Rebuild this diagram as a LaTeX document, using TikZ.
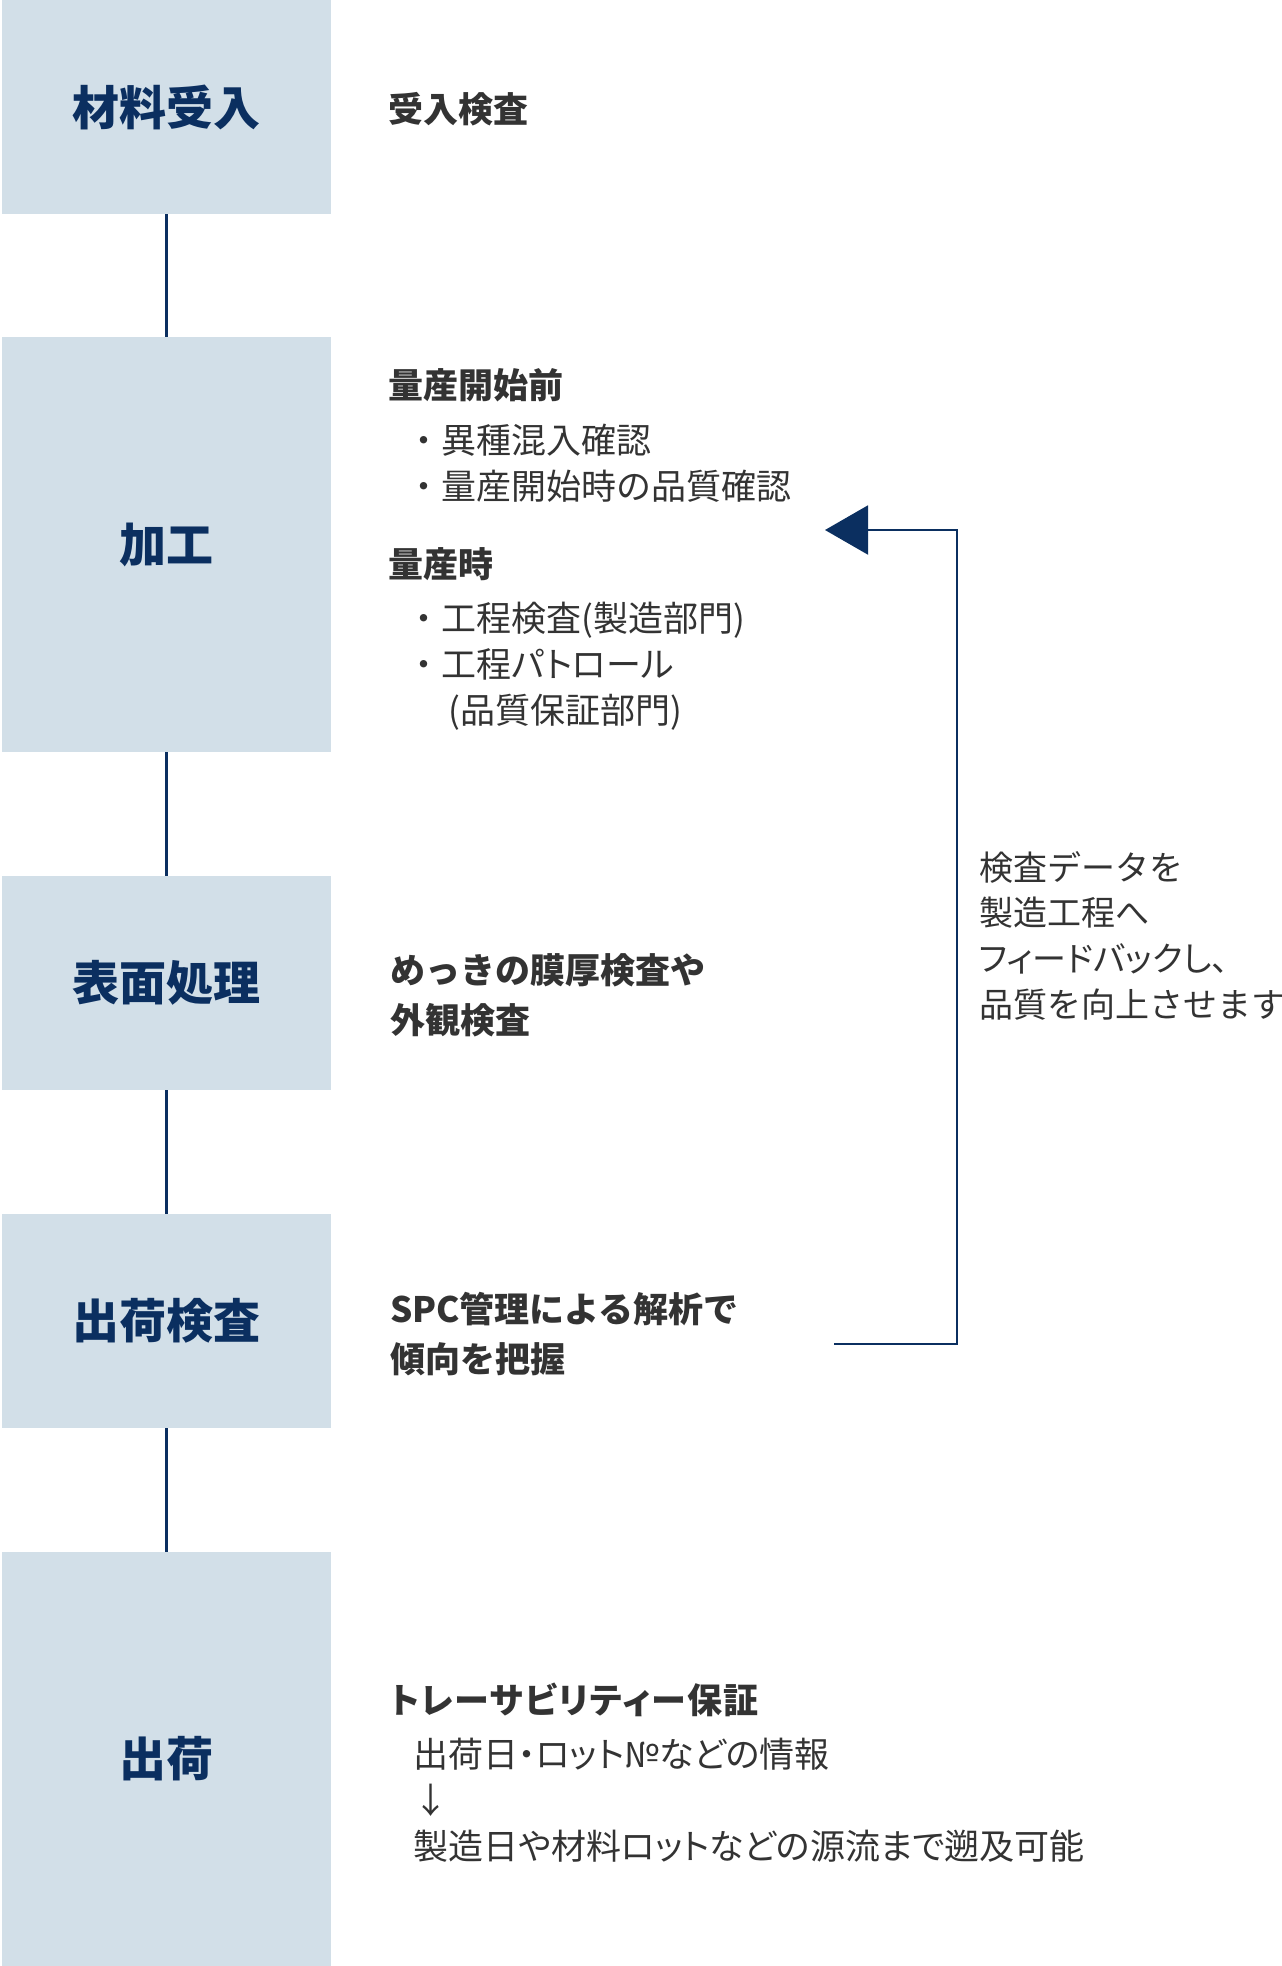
\documentclass[tikz,border=0pt]{standalone}
\usepackage{fontspec}
\setmainfont{Noto Sans CJK JP}
\newfontfamily\paltfont{Noto Sans CJK JP}[RawFeature=+palt]
\newfontfamily\paltwide{Noto Sans CJK JP}[RawFeature=+palt, LetterSpace=4.5]
\usetikzlibrary{arrows.meta}
\definecolor{navy}{HTML}{0B2F60}
\definecolor{boxfill}{HTML}{D2DFE8}
\definecolor{txt}{HTML}{333333}
\tikzset{
  stage/.style={fill=boxfill, draw=none, minimum width=329pt, inner sep=0pt, text=navy,
    font=\fontsize{47}{50}\selectfont\bfseries},
  link/.style={draw=navy, line width=2.5pt},
  head/.style={anchor=west, inner sep=0pt, text=txt, font=\fontsize{35}{50}\selectfont\bfseries,
    text height=31pt, text depth=4pt},
  parab/.style={anchor=west, inner sep=0pt, text=txt, align=left, font=\fontsize{35}{50}\selectfont\bfseries},
  item/.style={anchor=west, inner sep=0pt, text=txt, align=left, font=\fontsize{35}{46}\selectfont},
  note/.style={anchor=west, inner sep=0pt, text=txt, align=left, font=\fontsize{34}{45.7}\selectfont},
  feedback/.style={draw=navy, line width=2pt, -{Triangle[length=43pt,width=49pt]}},
}
\begin{document}
\begin{tikzpicture}[x=1pt,y=-1pt]
\useasboundingbox (0,0) rectangle (1282,1966);
% stages
\node[stage, minimum height=214pt] (s1) at (166.5,107) {材料受入};
\node[stage, minimum height=415pt] (s2) at (166.5,544.5) {加工};
\node[stage, minimum height=214pt] (s3) at (166.5,983) {表面処理};
\node[stage, minimum height=214pt] (s4) at (166.5,1321) {出荷検査};
\node[stage, minimum height=414pt] (s5) at (166.5,1759) {出荷};
\draw[link] (s1.south) -- (s2.north);
\draw[link] (s2.south) -- (s3.north);
\draw[link] (s3.south) -- (s4.north);
\draw[link] (s4.south) -- (s5.north);
% descriptions
\node[head] (h1) at (388,109) {受入検査};
\node[head] (h2a) at (388,385) {量産開始前};
\node[item] (i2a) at (406,463) {・異種混入確認\\・量産開始時の品質確認};
\node[head] (h2b) at (388,564) {量産時};
\node[item] (i2b) at (406,666) {・工程検査(製造部門)\\・{\paltfont 工程パトロール}\\\hspace*{42pt}(品質保証部門)};
\node[parab] (h3) at (390,995) {めっきの膜厚検査や\\外観検査};
\node[parab] (h4) at (390,1334) {SPC管理による解析で\\傾向を把握};
\node[head, font=\fontsize{35}{50}\selectfont\paltwide\bfseries] (h5) at (390,1700) {トレーサビリティー保証};
\node[item, font=\fontsize{35}{46}\selectfont\paltfont] (i5) at (413,1800) {出荷日・ロット№などの情報\\↓\\製造日や材料ロットなどの源流まで遡及可能};
% feedback
\node[note] (fb) at (979,935.5) {検査データを\\製造工程へ\\{\paltfont フィードバックし、}\\品質を向上させます};
\coordinate (fbs) at (834,1344);
\coordinate (fbc) at (957,1344);
\coordinate (fbe) at (825,530);
\draw[feedback] (fbs) -- (fbc) |- (fbe);
\end{tikzpicture}
\end{document}
